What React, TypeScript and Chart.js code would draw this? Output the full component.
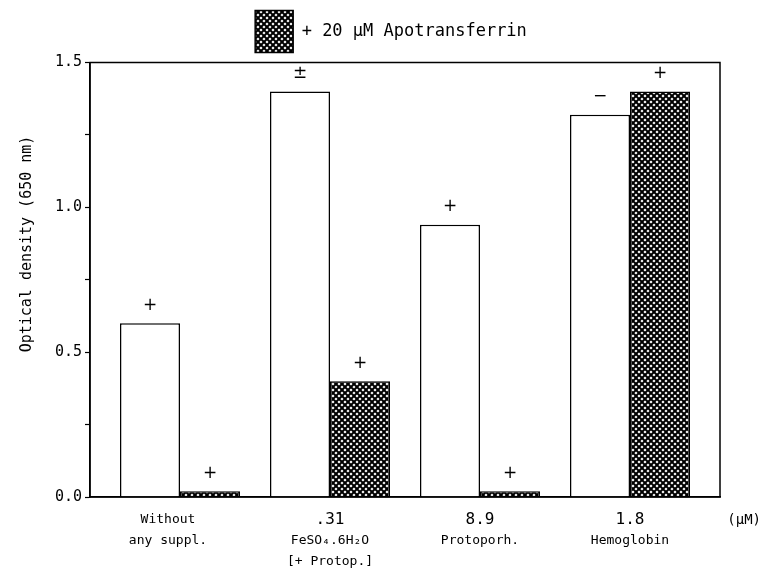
import React, { useEffect, useRef } from 'react';
import { Chart, registerables } from 'chart.js';

Chart.register(...registerables);

// ---- data ----
const categoryLabels: string[][] = [
  ['Without', 'any suppl.'],
  ['.31', 'FeSO₄.6H₂O', '[+ Protop.]'],
  ['8.9', 'Protoporh.'],
  ['1.8', 'Hemoglobin'],
];
const categoryIndex = [0, 1, 2, 3];
const unitLabel = '(µM)';
const controlValues = [0.6, 1.4, 0.94, 1.32];
const apoValues = [0.02, 0.4, 0.02, 1.4];
const controlMarks = ['+', '±', '+', '−'];
const apoMarks = ['+', '+', '+', '+'];
const apoLabel = '+ 20 µM Apotransferrin';
const yTitle = 'Optical density (650 nm)';
const yTickValues = [0, 0.5, 1.0, 1.5];
const yMinorTickValues = [0.25, 0.75, 1.25];

const MONO = '"DejaVu Sans Mono", monospace';

function makeHatch(): CanvasPattern | string {
  const s = 6;
  const c = document.createElement('canvas');
  c.width = s;
  c.height = s;
  const g = c.getContext('2d');
  if (!g) return '#555';
  g.fillStyle = '#fff';
  g.fillRect(0, 0, s, s);
  g.strokeStyle = '#000';
  g.lineWidth = 2;
  g.beginPath();
  g.moveTo(-1, -1);
  g.lineTo(s + 1, s + 1);
  g.moveTo(s + 1, -1);
  g.lineTo(-1, s + 1);
  g.stroke();
  const p = g.createPattern(c, 'repeat');
  return p || '#555';
}

export default function App() {
  const ref = useRef<HTMLCanvasElement | null>(null);

  useEffect(() => {
    document.body.style.margin = '0';
    const canvas = ref.current;
    if (!canvas) return;
    const hatch = makeHatch();

    const legendShift = {
      id: 'legendShift',
      afterLayout(chart: any) {
        const l = chart.legend;
        if (l) {
          l.left += 21;
          l.right += 21;
        }
      },
    };

    const frame = {
      id: 'frame',
      afterDraw(chart: any) {
        const { ctx, chartArea: a } = chart;
        ctx.save();
        ctx.strokeStyle = '#000';
        ctx.lineWidth = 1.5;
        ctx.strokeRect(a.left, a.top, a.right - a.left, a.bottom - a.top);
        ctx.restore();
      },
    };

    const marks = {
      id: 'marks',
      afterDatasetsDraw(chart: any) {
        const { ctx } = chart;
        const sets = [controlMarks, apoMarks];
        ctx.save();
        ctx.fillStyle = '#000';
        ctx.font = '17px "DejaVu Sans", sans-serif';
        ctx.textAlign = 'center';
        ctx.textBaseline = 'middle';
        sets.forEach((m, di) => {
          const meta = chart.getDatasetMeta(di);
          meta.data.forEach((el: any, i: number) => {
            ctx.fillText(m[i], el.x, el.y - 18);
          });
        });
        ctx.restore();
      },
    };

    const xLabels = {
      id: 'xLabels',
      afterDraw(chart: any) {
        const { ctx, chartArea } = chart;
        const xs = chart.scales.x;
        ctx.save();
        ctx.fillStyle = '#000';
        ctx.textAlign = 'center';
        ctx.textBaseline = 'middle';
        categoryLabels.forEach((lines, i) => {
          const x = xs.getPixelForValue(categoryIndex[i]);
          lines.forEach((t, li) => {
            const isNum = /^[\d.]+$/.test(t);
            ctx.font = (isNum ? '16px ' : '13px ') + MONO;
            ctx.fillText(t, x - (i === 0 ? 12 : 0), chartArea.bottom + 23 + li * 21);
          });
        });
        ctx.font = '14px ' + MONO;
        ctx.textAlign = 'right';
        ctx.fillText(unitLabel, 761, chartArea.bottom + 23);
        // y-axis title
        ctx.save();
        ctx.translate(27, 244);
        ctx.rotate(-Math.PI / 2);
        ctx.font = '15px ' + MONO;
        ctx.textAlign = 'center';
        ctx.fillText(yTitle, 0, 0);
        ctx.restore();
        ctx.restore();
      },
    };

    const chart = new Chart(canvas, {
      type: 'bar',
      data: {
        datasets: [
          {
            label: 'control',
            data: controlValues.map((v, i) => ({ x: categoryIndex[i], y: v })),
            backgroundColor: '#fff',
            borderColor: '#000',
            borderWidth: 1.5,
            borderSkipped: 'bottom',
          },
          {
            label: apoLabel,
            data: apoValues.map((v, i) => ({ x: categoryIndex[i], y: v })),
            backgroundColor: hatch as any,
            borderColor: '#000',
            borderWidth: 1.5,
            borderSkipped: 'bottom',
          },
        ],
      },
      plugins: [legendShift, frame, marks, xLabels],
      options: {
        animation: false,
        responsive: false,
        devicePixelRatio: 1,
        layout: { padding: { left: 20, right: 42, top: 0, bottom: 0 } },
        datasets: { bar: { categoryPercentage: 0.8, barPercentage: 1.0 } },
        plugins: {
          tooltip: { enabled: false },
          legend: {
            display: true,
            position: 'top',
            labels: {
              filter: (item: any) => item.datasetIndex === 1,
              boxWidth: 38,
              boxHeight: 42,
              padding: 10.5,
              color: '#000',
              font: { family: MONO, size: 17 },
            },
          },
        },
        scales: {
          x: {
            type: 'linear',
            min: -0.6,
            max: 3.6,
            offset: false,
            grid: { display: false },
            border: { display: true, color: '#000', width: 1.5 },
            afterBuildTicks: (s: any) => {
              s.ticks = categoryIndex.map((v) => ({ value: v }));
            },
            ticks: { display: false },
            afterFit: (s: any) => {
              s.height = 81;
            },
          },
          y: {
            min: 0,
            max: 1.5,
            grid: {
              drawOnChartArea: false,
              drawTicks: true,
              tickLength: 5,
              color: '#000',
              tickWidth: 1.2,
            },
            border: { display: true, color: '#000', width: 1.5 },
            afterBuildTicks: (s: any) => {
              s.ticks = [...yTickValues, ...yMinorTickValues]
                .sort((a, b) => a - b)
                .map((v) => ({ value: v }));
            },
            ticks: {
              color: '#000',
              padding: 3,
              font: { family: MONO, size: 15 },
              callback: (v: any) => {
                const n = Number(v);
                return yTickValues.some((t) => Math.abs(t - n) < 1e-6) ? n.toFixed(1) : '';
              },
            },
            afterFit: (s: any) => {
              s.width = 70;
            },
          },
        },
      },
    } as any);

    return () => chart.destroy();
  }, []);

  return (
    <div style={{ position: 'fixed', left: 0, top: 0, width: 762, height: 578, background: '#fff' }}>
      <canvas ref={ref} width={762} height={578} style={{ width: 762, height: 578 }} />
    </div>
  );
}
